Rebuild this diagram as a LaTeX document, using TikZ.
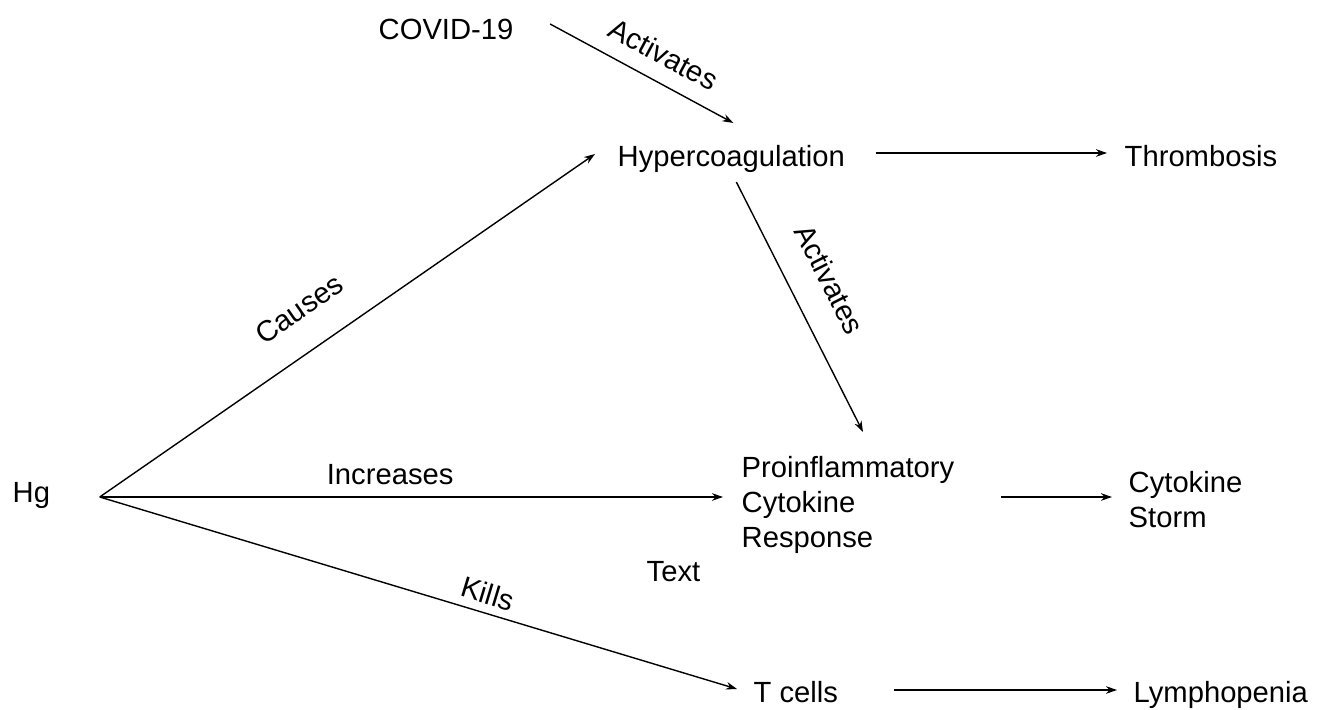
\documentclass[tikz,border=0pt]{standalone}
\usepackage{fontspec}
\setmainfont{Liberation Sans}
\usetikzlibrary{arrows.meta}
\begin{document}
\begin{tikzpicture}[x=0.5pt, y=-0.5pt, >={Stealth[length=5.5pt,width=3.8pt]},
  every node/.style={inner sep=0pt, font=\fontsize{14.6}{17.5}\selectfont},
  lbl/.style={sloped}, line width=0.7pt]
\useasboundingbox (0,0) rectangle (1324,710);

\node[anchor=base west] (covid) at (378,40) {COVID-19};
\node[anchor=base west] (hyper) at (617,167) {Hypercoagulation};
\node[anchor=base west] (thromb) at (1124,167) {Thrombosis};
\node[anchor=base west] (hg) at (12,503) {Hg};
\node[anchor=north west, align=left] (proinfl) at (741,456) {Proinflammatory\\Cytokine\\Response};
\node[anchor=north west, align=left] (storm) at (1128,471) {Cytokine\\Storm};
\node[anchor=base west] (note) at (646,582) {Text};
\node[anchor=base west] (tcells) at (753,703) {T cells};
\node[anchor=base west] (lympho) at (1133,703) {Lymphopenia};

\coordinate (hgout) at ([shift={(49,-6)}]hg.base east);

\draw[->] ([shift={(36,-16)}]covid.base east) -- ([shift={(2,-44)}]hyper.base) node[lbl, pos=.55, above=8pt] {Activates};
\draw[->] ([shift={(30,-14)}]hyper.base east) -- ([shift={(-17,-14)}]thromb.base west);
\draw[->] ([shift={(5,15)}]hyper.base) -- ([shift={(122,-24)}]proinfl.north west) node[lbl, pos=.46, above=14pt] {Activates};
\draw[->] (hgout) -- ([shift={(-22,-13)}]hyper.base west) node[lbl, pos=.45, above=15pt] {Causes};
\draw[->] (hgout) -- ([shift={(-18,41)}]proinfl.north west) node[pos=.466, above=6pt] {Increases};
\draw[->] (hgout) -- ([shift={(-16,-14)}]tcells.base west) node[lbl, pos=.6, above=4pt] {Kills};
\draw[->] ([shift={(46,41)}]proinfl.north east) -- ([shift={(-16,26)}]storm.north west);
\draw[->] ([shift={(55,-13)}]tcells.base east) -- ([shift={(-16,-13)}]lympho.base west);
\end{tikzpicture}
\end{document}
